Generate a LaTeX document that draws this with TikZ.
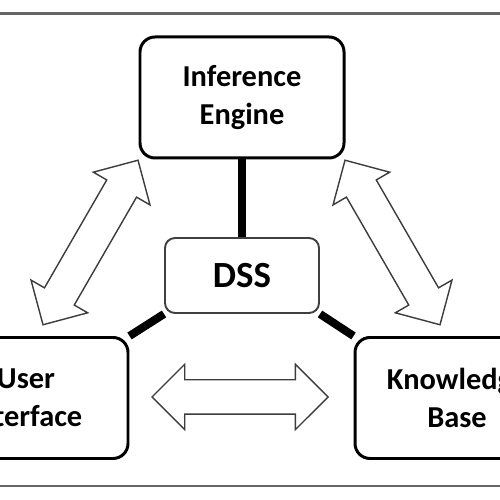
\documentclass[tikz,border=0pt]{standalone}
\usepackage{fontspec}
\setmainfont{Carlito}
\usetikzlibrary{shapes.arrows,backgrounds}

\definecolor{framegray}{HTML}{666666}
\definecolor{arrowgray}{HTML}{3C3C3C}

\begin{document}
\begin{tikzpicture}
    \tikzstyle{every node}=[font=\bfseries\fontsize{17.3}{21.5}\selectfont, align=center]
    \tikzstyle{mainbox}=[draw=black, line width=1.7pt, rounded corners=0.3cm, fill=white, minimum width=4.08cm, minimum height=2.42cm]
    \tikzstyle{dssbox}=[draw=black!75, line width=1.1pt, rounded corners=0.2cm, fill=white, minimum width=3.08cm, minimum height=1.5cm, font=\bfseries\fontsize{21}{25}\selectfont]
    \tikzstyle{hollowarrow}=[double arrow, draw=arrowgray, line width=0.8pt, fill=white, inner xsep=0pt, inner ysep=0.33cm, double arrow head extend=0.31cm, minimum height=3.8cm]
    \tikzstyle{link}=[line width=4.6pt, black]
    \path[use as bounding box, clip] (0,0) rectangle (10,10);
    % draw frame
    \draw[framegray, line width=1.2pt] (-0.5,0.28) rectangle (10.5,9.73);
    % draw boxes
    \node[mainbox] (engine) at (4.84,8.05) {Inference\\Engine};
    \node[dssbox] (dss) at (4.84,4.49) {DSS};
    \node[mainbox] (ui) at (0.52,2.04) {User\\Interface};
    \node[mainbox] (kb) at (9.14,2.04) {Knowledge\\Base};
    % draw arrows
    \node[hollowarrow, rotate=60] (arrleft) at (1.81,5.15) {};
    \node[hollowarrow, rotate=-60] (arrright) at (7.85,5.15) {};
    \node[hollowarrow, minimum height=3.52cm] (arrbottom) at (4.8,2.06) {};
    % draw links
    \begin{pgfonlayer}{background}
        \draw[link] (engine.south) -- (dss.north);
        \draw[link] (dss.south west) -- (ui.north east);
        \draw[link] (dss.south east) -- (kb.north west);
    \end{pgfonlayer}
\end{tikzpicture}
\end{document}
